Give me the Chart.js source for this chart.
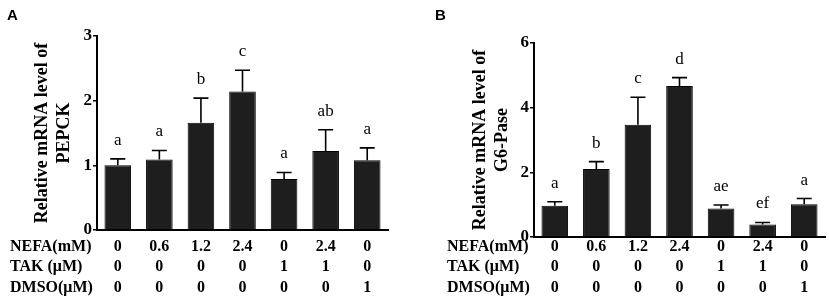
<!DOCTYPE html>
<html>
<head>
<meta charset="utf-8">
<script src="https://cdn.jsdelivr.net/npm/chart.js@4.4.1/dist/chart.umd.min.js"></script>
<style>
  body { margin: 0; background: #fff; }
  #wrap { position: relative; width: 829px; height: 305px; }
  canvas { position: absolute; top: 0; }
  .panel { position: absolute; top: 6px; font: bold 15px 'Liberation Sans', Arial, sans-serif; color: #000; }
</style>
</head>
<body>
<div id="wrap">
  <canvas id="chartA" width="415" height="305" style="left:0"></canvas>
  <canvas id="chartB" width="414" height="305" style="left:415px"></canvas>
  <div class="panel" style="left:7px">A</div>
  <div class="panel" style="left:435px">B</div>
</div>
<script>
// treatment table (one column per bar)
const nefa = ['0', '0.6', '1.2', '2.4', '0', '2.4', '0'];
const tak = ['0', '0', '0', '0', '1', '1', '0'];
const dmso = ['0', '0', '0', '0', '0', '0', '1'];
const rowLabels = ['NEFA(mM)', 'TAK (\u03bcM)', 'DMSO(\u03bcM)'];
const groups = ['G1', 'G2', 'G3', 'G4', 'G5', 'G6', 'G7'];

// panel A - PEPCK
const pepckMean = [1.00, 1.09, 1.66, 2.14, 0.79, 1.22, 1.08];
const pepckErr = [0.10, 0.14, 0.38, 0.33, 0.10, 0.33, 0.19];
const pepckLetters = ['a', 'a', 'b', 'c', 'a', 'ab', 'a'];

// panel B - G6-Pase
const g6Mean = [0.97, 2.10, 3.47, 4.67, 0.88, 0.39, 1.01];
const g6Err = [0.12, 0.23, 0.85, 0.26, 0.11, 0.06, 0.18];
const g6Letters = ['a', 'b', 'c', 'd', 'ae', 'ef', 'a'];

const serif = "'Liberation Serif', 'Times New Roman', serif";

const extras = {
  id: 'extras',
  afterDatasetsDraw(chart, args, opts) {
    const ctx = chart.ctx;
    const ys = chart.scales.y;
    const bars = chart.getDatasetMeta(0).data;
    const mean = chart.data.datasets[0].data;
    ctx.save();
    ctx.strokeStyle = '#000';
    ctx.lineWidth = 1.6;
    ctx.fillStyle = '#000';
    ctx.font = '17px ' + serif;
    ctx.textAlign = 'center';
    ctx.textBaseline = 'alphabetic';
    bars.forEach((bar, i) => {
      const y0 = ys.getPixelForValue(mean[i]);
      const y1 = ys.getPixelForValue(mean[i] + opts.err[i]);
      ctx.beginPath();
      ctx.moveTo(bar.x, y0);
      ctx.lineTo(bar.x, y1);
      ctx.moveTo(bar.x - 7.5, y1);
      ctx.lineTo(bar.x + 7.5, y1);
      ctx.stroke();
      ctx.fillText(opts.letters[i], bar.x, y1 - 14);
    });

    // treatment table under the axis
    ctx.font = 'bold 16px ' + serif;
    ctx.textBaseline = 'middle';
    const rows = [nefa, tak, dmso];
    rows.forEach((row, r) => {
      const y = opts.rowY[r];
      ctx.textAlign = 'left';
      ctx.fillText(rowLabels[r], chart.chartArea.left - 87, y);
      ctx.textAlign = 'center';
      row.forEach((v, i) => ctx.fillText(v, bars[i].x, y));
    });
    ctx.restore();
  }
};

function makeChart(id, mean, err, letters, yMax, step, title, yWidth, titlePad, top, right, xHeight) {
  return new Chart(document.getElementById(id), {
    type: 'bar',
    data: {
      labels: groups,
      datasets: [{
        data: mean,
        backgroundColor: '#1e1e1e',
        borderColor: '#000',
        borderWidth: 1,
        barPercentage: 0.64,
        categoryPercentage: 1
      }]
    },
    options: {
      responsive: false,
      animation: false,
      devicePixelRatio: 1,
      layout: { padding: { left: 0, top: top, right: right, bottom: 0 } },
      plugins: {
        legend: { display: false },
        tooltip: { enabled: false },
        extras: { err: err, letters: letters, rowY: [246.5, 267, 287.5] }
      },
      scales: {
        x: {
          ticks: { display: false },
          grid: { display: false },
          border: { display: true, color: '#000', width: 2 },
          afterFit(s) { s.height = xHeight; }
        },
        y: {
          min: 0,
          max: yMax,
          ticks: { stepSize: step, color: '#000', padding: 1, font: { family: serif, size: 17, weight: 'bold' } },
          grid: { drawOnChartArea: false, drawTicks: true, tickLength: 4, color: '#000', lineWidth: 1.5 },
          border: { display: true, color: '#000', width: 2 },
          title: {
            display: true,
            text: title,
            color: '#000',
            padding: { top: titlePad, bottom: 0 },
            font: { family: serif, size: 18, weight: 'bold', lineHeight: 1.25 }
          },
          afterFit(s) { s.width = yWidth; }
        }
      }
    },
    plugins: [extras]
  });
}

makeChart('chartA', pepckMean, pepckErr, pepckLetters, 3, 1,
  ['Relative mRNA level of', 'PEPCK'], 97, 31, 36, 27, 75);
makeChart('chartB', g6Mean, g6Err, g6Letters, 6, 2,
  ['Relative mRNA level of', 'G6-Pase'], 119, 54, 43, 4, 68);
</script>
</body>
</html>
